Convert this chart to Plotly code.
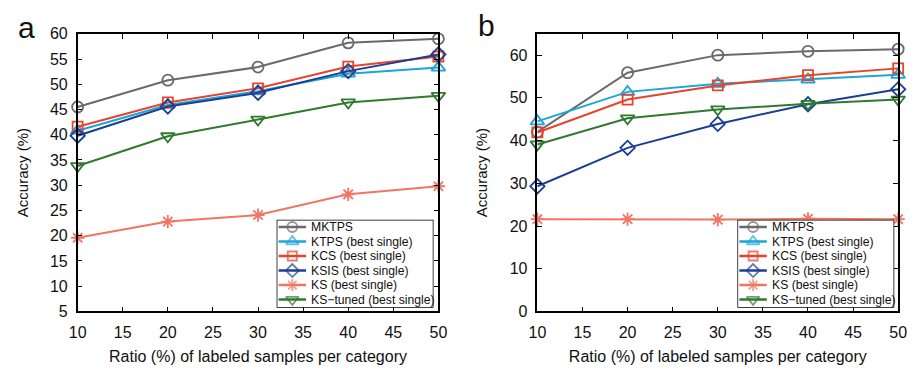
import plotly.graph_objects as go

ratios = [10, 20, 30, 40, 50]
series_names = ["MKTPS", "KTPS (best single)", "KCS (best single)", "KSIS (best single)",
                "KS (best single)", "KS\u2212tuned (best single)"]

a_mktps = [45.5, 50.8, 53.4, 58.2, 59.0]
a_ktps = [40.8, 45.9, 48.6, 52.1, 53.3]
a_kcs = [41.6, 46.4, 49.2, 53.5, 55.5]
a_ksis = [39.8, 45.6, 48.3, 52.6, 55.9]
a_ks = [19.6, 22.8, 24.1, 28.2, 29.8]
a_kstuned = [33.8, 39.7, 43.0, 46.4, 47.7]

b_mktps = [42.0, 55.9, 60.0, 60.9, 61.4]
b_ktps = [44.5, 51.4, 53.3, 54.3, 55.4]
b_kcs = [41.9, 49.6, 52.9, 55.3, 56.9]
b_ksis = [29.3, 38.3, 43.9, 48.5, 52.0]
b_ks = [21.6, 21.6, 21.5, 21.7, 21.6]
b_kstuned = [39.1, 45.2, 47.3, 48.6, 49.6]

colors = ["#6a6a6a", "#1ba6d8", "#e8432d", "#1c3f94", "#f07563", "#2f7a2f"]
symbols = ["circle-open", "triangle-up-open", "square-open", "diamond-open",
           "asterisk-open", "triangle-down-open"]
sizes = [11, 12, 10, 11, 11, 12]

font = dict(family="Liberation Sans, Arial, sans-serif", color="#111111")

fig = go.Figure()
panels = [
    ([a_mktps, a_ktps, a_kcs, a_ksis, a_ks, a_kstuned], "x", "y", "x3", "y3"),
    ([b_mktps, b_ktps, b_kcs, b_ksis, b_ks, b_kstuned], "x2", "y2", "x4", "y4"),
]
# legend box geometry in its own small axis (units = pixels inside the box)
LW, LH = 160, 92
ROW0, ROWSTEP = 7.5, 15.2
for data, xa, ya, lxa, lya in panels:
    for i, vals in enumerate(data):
        fig.add_trace(go.Scatter(
            x=ratios, y=vals, mode="lines+markers", name=series_names[i],
            xaxis=xa, yaxis=ya, cliponaxis=False, showlegend=False,
            line=dict(color=colors[i], width=2),
            marker=dict(symbol=symbols[i], size=sizes[i], color=colors[i],
                        line=dict(color=colors[i], width=1.8)),
        ))
    # legend box (white, black border) drawn in a subplot above the data
    fig.add_trace(go.Scatter(
        x=[0, LW, LW, 0, 0], y=[0, 0, LH, LH, 0], mode="lines", fill="toself",
        fillcolor="white", line=dict(color="black", width=1.5),
        xaxis=lxa, yaxis=lya, showlegend=False, hoverinfo="skip", cliponaxis=False,
    ))
    for i in range(len(series_names)):
        yy = ROW0 + ROWSTEP * i
        fig.add_trace(go.Scatter(
            x=[2, 16, 30], y=[yy, yy, yy], mode="lines+markers",
            xaxis=lxa, yaxis=lya, showlegend=False, hoverinfo="skip", cliponaxis=False,
            line=dict(color=colors[i], width=2.5),
            marker=dict(symbol=symbols[i], size=[0, sizes[i] - 1, 0], color=colors[i],
                        line=dict(color=colors[i], width=1.8)),
        ))
        fig.add_annotation(text=series_names[i], x=33, y=yy, xref=lxa, yref=lya,
                           showarrow=False, xanchor="left", yanchor="middle",
                           font=dict(size=12.2, **font))

axis_common = dict(
    showgrid=False, zeroline=False, showline=True, linecolor="black", linewidth=1.5,
    mirror="ticks", ticks="inside", ticklen=5, tickwidth=1, tickcolor="black",
    tickfont=dict(size=16, **font),
)
hidden = dict(visible=False, showgrid=False, zeroline=False, fixedrange=True)
xtitle = "Ratio (%) of labeled samples per category"
ydom = [1 - 318 / 372, 1 - 27 / 372]
legy = [1 - 314 / 372, 1 - 222 / 372]
fig.update_layout(
    width=916, height=372, margin=dict(l=0, r=0, t=0, b=0),
    paper_bgcolor="white", plot_bgcolor="rgba(0,0,0,0)", font=font,
    xaxis=dict(domain=[70 / 916, 438 / 916], range=[10, 50], dtick=5, tick0=10,
               ticklabelstandoff=6,
               title=dict(text=xtitle, font=dict(size=16, **font), standoff=10),
               **axis_common),
    yaxis=dict(domain=ydom, range=[5, 60], dtick=5, anchor="x", ticklabelstandoff=5,
               title=dict(text="Accuracy (%)", font=dict(size=15, **font), standoff=18),
               **axis_common),
    xaxis2=dict(domain=[539 / 916, 907 / 916], range=[10, 50], dtick=5, tick0=10, anchor="y2",
                ticklabelstandoff=6,
                title=dict(text=xtitle, font=dict(size=16, **font), standoff=10),
                **axis_common),
    yaxis2=dict(domain=ydom, range=[0, 65], tickvals=[0, 10, 20, 30, 40, 50, 60], anchor="x2",
                ticklabelstandoff=5,
                title=dict(text="Accuracy (%)", font=dict(size=15, **font), standoff=18),
                **axis_common),
    xaxis3=dict(domain=[273 / 916, 433 / 916], range=[0, LW], anchor="y3", **hidden),
    yaxis3=dict(domain=legy, range=[LH, 0], anchor="x3", **hidden),
    xaxis4=dict(domain=[743 / 916, 903 / 916], range=[0, LW], anchor="y4", **hidden),
    yaxis4=dict(domain=legy, range=[LH, 0], anchor="x4", **hidden),
    showlegend=False,
)
fig.add_annotation(text="a", x=18 / 916, y=1 - 20 / 372, xref="paper", yref="paper",
                   showarrow=False, font=dict(size=30, **font), xanchor="center", yanchor="middle")
fig.add_annotation(text="b", x=487 / 916, y=1 - 18 / 372, xref="paper", yref="paper",
                   showarrow=False, font=dict(size=30, **font), xanchor="center", yanchor="middle")

fig.write_html("out.html")
